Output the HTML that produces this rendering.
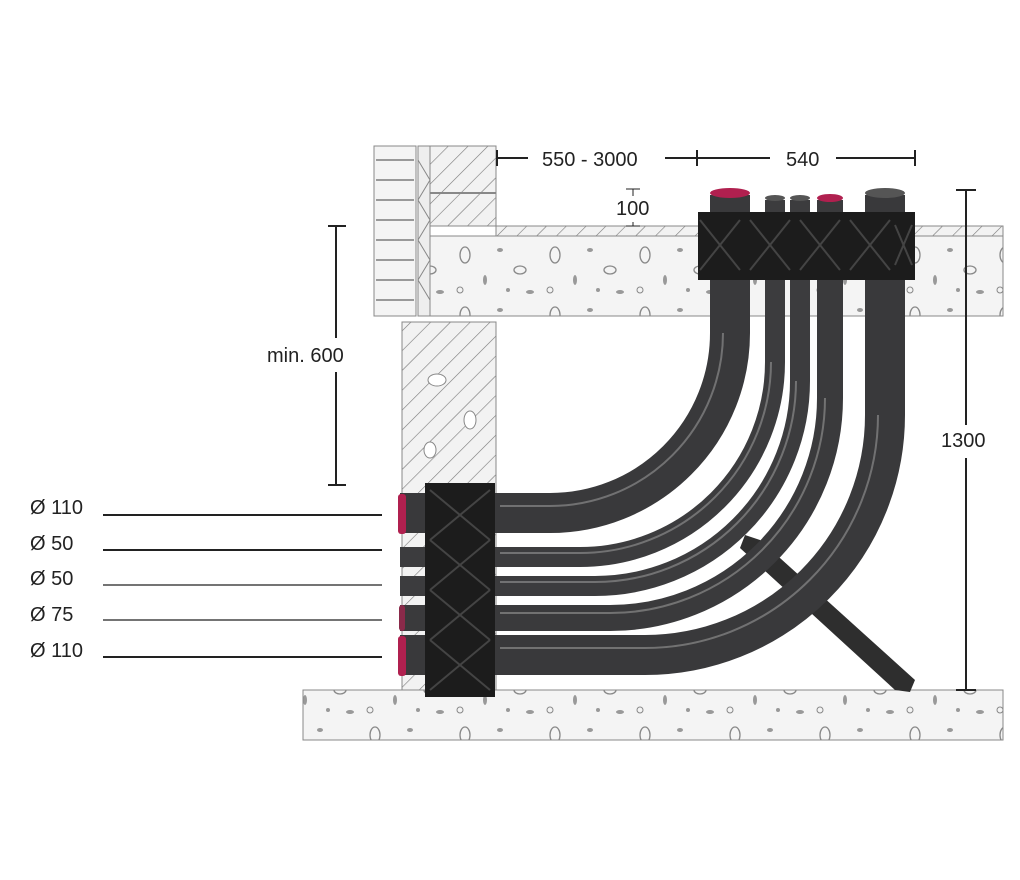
<!DOCTYPE html>
<html><head><meta charset="utf-8"><style>
html,body{margin:0;padding:0;background:#fff;}
svg{display:block;font-family:"Liberation Sans",sans-serif;}
</style></head><body>
<svg width="1020" height="880" viewBox="0 0 1020 880" xmlns="http://www.w3.org/2000/svg">
<defs>
<pattern id="hatch" width="14" height="14" patternUnits="userSpaceOnUse" patternTransform="rotate(45)">
<rect width="14" height="14" fill="#f2f2f2"/><line x1="0" y1="0" x2="0" y2="14" stroke="#777" stroke-width="1.2"/>
</pattern>
<pattern id="speck" width="90" height="60" patternUnits="userSpaceOnUse">
<rect width="90" height="60" fill="#f4f4f4"/>
<ellipse cx="15" cy="15" rx="5" ry="8" fill="none" stroke="#888" stroke-width="1.3"/>
<ellipse cx="50" cy="10" rx="3" ry="2" fill="#999"/>
<ellipse cx="70" cy="30" rx="6" ry="4" fill="none" stroke="#888" stroke-width="1.3"/>
<ellipse cx="35" cy="40" rx="2" ry="5" fill="#999"/>
<ellipse cx="80" cy="52" rx="4" ry="2" fill="#999"/>
<ellipse cx="10" cy="50" rx="3" ry="3" fill="none" stroke="#888"/>
<ellipse cx="58" cy="50" rx="2" ry="2" fill="#999"/>
</pattern>
</defs>
<rect x="430" y="236" width="573" height="80" fill="url(#speck)" stroke="#888"/>
<rect x="496" y="226" width="507" height="10" fill="url(#hatch)" stroke="#888"/>
<rect x="374" y="146" width="42" height="170" fill="#f4f4f4" stroke="#888"/>
<g stroke="#999" stroke-width="2">
<line x1="376" y1="160" x2="414" y2="160"/><line x1="376" y1="180" x2="414" y2="180"/><line x1="376" y1="200" x2="414" y2="200"/><line x1="376" y1="220" x2="414" y2="220"/><line x1="376" y1="240" x2="414" y2="240"/><line x1="376" y1="260" x2="414" y2="260"/><line x1="376" y1="280" x2="414" y2="280"/><line x1="376" y1="300" x2="414" y2="300"/>
</g>
<rect x="418" y="146" width="12" height="170" fill="#eee" stroke="#888"/>
<path d="M418 160 L430 180 L418 200 L430 220 L418 240 L430 260 L418 280 L430 300" fill="none" stroke="#888"/>
<rect x="430" y="146" width="66" height="80" fill="url(#hatch)" stroke="#888"/>
<line x1="430" y1="193" x2="496" y2="193" stroke="#888" stroke-width="2"/>
<rect x="402" y="322" width="94" height="368" fill="url(#hatch)" stroke="#888"/>
<ellipse cx="437" cy="380" rx="9" ry="6" fill="#fff" stroke="#888"/>
<ellipse cx="470" cy="420" rx="6" ry="9" fill="#fff" stroke="#888"/>
<ellipse cx="430" cy="450" rx="6" ry="8" fill="#fff" stroke="#888"/>
<rect x="303" y="690" width="700" height="50" fill="url(#speck)" stroke="#888"/>
<path d="M745 535 L760 540 L915 680 L910 692 L895 690 L740 548 Z" fill="#2e2e2e"/>
<g fill="none" stroke-linecap="butt">
<path d="M400 655 L645 655 A240 240 0 0 0 885 415 L885 195" stroke="#39393b" stroke-width="40"/>
<path d="M400 618 L610 618 A220 220 0 0 0 830 398 L830 200" stroke="#3a3a3c" stroke-width="26"/>
<path d="M400 586 L595 586 A205 205 0 0 0 800 381 L800 200" stroke="#3c3c3e" stroke-width="20"/>
<path d="M400 557 L580 557 A195 195 0 0 0 775 362 L775 200" stroke="#3c3c3e" stroke-width="20"/>
<path d="M400 513 L550 513 A180 180 0 0 0 730 333 L730 195" stroke="#39393b" stroke-width="40"/>
</g>
<g fill="none" stroke="#8a8a8a" stroke-width="2" opacity="0.7">
<path d="M500 648 L645 648 A233 233 0 0 0 878 415"/>
<path d="M500 506 L550 506 A173 173 0 0 0 723 333"/>
<path d="M500 613 L610 613 A215 215 0 0 0 825 398"/>
<path d="M500 582 L595 582 A201 201 0 0 0 796 381"/>
<path d="M500 553 L580 553 A191 191 0 0 0 771 362"/>
</g>
<rect x="398" y="494" width="8" height="40" rx="3" fill="#b0204f"/>
<rect x="398" y="636" width="8" height="40" rx="3" fill="#b0204f"/>
<rect x="399" y="605" width="6" height="26" rx="3" fill="#8a2a4a"/>
<ellipse cx="730" cy="193" rx="20" ry="5" fill="#b0204f"/>
<ellipse cx="885" cy="193" rx="20" ry="5" fill="#555"/>
<ellipse cx="830" cy="198" rx="13" ry="4" fill="#b0204f"/>
<ellipse cx="775" cy="198" rx="10" ry="3" fill="#555"/>
<ellipse cx="800" cy="198" rx="10" ry="3" fill="#555"/>
<rect x="425" y="483" width="70" height="214" fill="#1c1c1c"/>
<g stroke="#444" stroke-width="2"><path d="M430 490 L490 540 M490 490 L430 540 M430 540 L490 590 M490 540 L430 590 M430 590 L490 640 M490 590 L430 640 M430 640 L490 690 M490 640 L430 690"/></g>
<rect x="698" y="212" width="217" height="68" fill="#1c1c1c"/>
<g stroke="#444" stroke-width="2"><path d="M700 220 L740 270 M740 220 L700 270 M750 220 L790 270 M790 220 L750 270 M800 220 L840 270 M840 220 L800 270 M850 220 L890 270 M890 220 L850 270 M895 225 L912 265 M912 225 L895 265"/></g>
<g stroke="#222" stroke-width="2">
<line x1="497" y1="150" x2="497" y2="166"/><line x1="497" y1="158" x2="528" y2="158"/>
<line x1="665" y1="158" x2="697" y2="158"/><line x1="697" y1="150" x2="697" y2="166"/>
<line x1="697" y1="158" x2="770" y2="158"/><line x1="836" y1="158" x2="915" y2="158"/><line x1="915" y1="150" x2="915" y2="166"/>
<line x1="336" y1="226" x2="336" y2="338"/><line x1="328" y1="226" x2="346" y2="226"/>
<line x1="336" y1="372" x2="336" y2="485"/><line x1="328" y1="485" x2="346" y2="485"/>
<line x1="966" y1="190" x2="966" y2="425"/><line x1="956" y1="190" x2="976" y2="190"/>
<line x1="966" y1="458" x2="966" y2="690"/><line x1="956" y1="690" x2="976" y2="690"/>
<line x1="103" y1="515" x2="382" y2="515"/><line x1="103" y1="550" x2="382" y2="550"/>
<line x1="103" y1="585" x2="382" y2="585" stroke-width="1.3"/><line x1="103" y1="620" x2="382" y2="620" stroke-width="1.3"/>
<line x1="103" y1="657" x2="382" y2="657"/>
</g>
<g stroke="#222" stroke-width="1"><line x1="626" y1="189" x2="640" y2="189"/><line x1="633" y1="189" x2="633" y2="196"/><line x1="633" y1="222" x2="633" y2="226"/><line x1="626" y1="226" x2="640" y2="226"/></g>
<g fill="#222" font-size="20">
<text x="542" y="166">550 - 3000</text>
<text x="786" y="166">540</text>
<text x="616" y="215">100</text>
<text x="267" y="362">min. 600</text>
<text x="941" y="447">1300</text>
<text x="30" y="514">Ø 110</text>
<text x="30" y="550">Ø  50</text>
<text x="30" y="585">Ø  50</text>
<text x="30" y="621">Ø  75</text>
<text x="30" y="657">Ø 110</text>
</g>
</svg>
</body></html>
